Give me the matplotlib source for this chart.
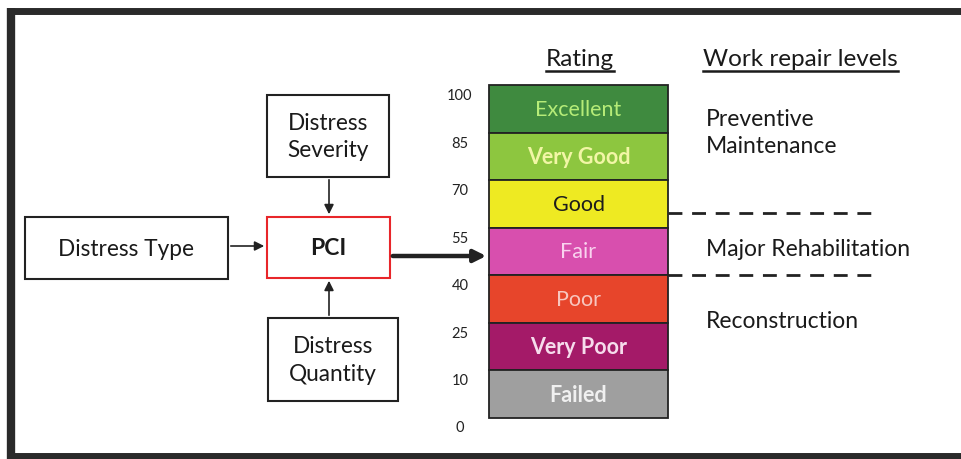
import matplotlib
matplotlib.use("Agg")
import matplotlib.pyplot as plt
from matplotlib.patches import Rectangle

plt.rcParams["font.family"] = ["Lato", "DejaVu Sans"]

# ── Data ────────────────────────────────────────────────────────────────────
ratings = ["Excellent", "Very Good", "Good", "Fair", "Poor", "Very Poor", "Failed"]
band_colors = ["#3f8a3f", "#8dc63f", "#eeea22", "#d84fae", "#e7452b", "#a41a68", "#9f9f9f"]
text_colors = ["#b6ec78", "#f2f6a6", "#1c1c1c", "#f9d3ef", "#f8c6bf", "#f6dcec", "#f0f0f0"]
pci_ticks = [100, 85, 70, 55, 40, 25, 10, 0]
repair_levels = [["Preventive", "Maintenance"], ["Major Rehabilitation"], ["Reconstruction"]]
inputs = ["Distress Severity", "Distress Type", "Distress Quantity"]

DARK = "#222222"

fig = plt.figure(figsize=(9.61, 4.6), dpi=100)
ax = fig.add_axes([0, 0, 1, 1])
ax.set_xlim(0, 961)
ax.set_ylim(460, 0)
ax.axis("off")

# outer frame (top, left, bottom only)
ax.plot([7, 961], [12, 12], color="#2a2a2a", lw=5, solid_capstyle="butt")
ax.plot([11, 11], [9, 460], color="#2a2a2a", lw=6, solid_capstyle="butt")
ax.plot([7, 961], [457, 457], color="#2a2a2a", lw=5, solid_capstyle="butt")


def box(x0, y0, x1, y1, lines, edge=DARK, bold=False, size=16.3):
    ax.add_patch(Rectangle((x0, y0), x1 - x0, y1 - y0, fill=False,
                           edgecolor=edge, lw=1.5))
    ax.text((x0 + x1) / 2, (y0 + y1) / 2, "\n".join(lines), ha="center",
            va="center", fontsize=size, color="#1a1a1a",
            fontweight="bold" if bold else "normal", linespacing=1.4)


# input boxes
box(267, 96, 389, 178, inputs[0].split(" "))
box(25, 218, 228, 280, [inputs[1]])
box(268, 319, 398, 402, inputs[2].split(" "))
box(267, 218, 390, 279, ["PCI"], edge="#e8262a", bold=True, size=16.5)

arrow = dict(arrowstyle="-|>", color=DARK, lw=1.2, mutation_scale=14)
ax.annotate("", xy=(329, 218), xytext=(329, 178), arrowprops=arrow)
ax.annotate("", xy=(329, 279), xytext=(329, 319), arrowprops=arrow)
ax.annotate("", xy=(267, 247), xytext=(228, 247), arrowprops=arrow)
ax.annotate("", xy=(489, 257), xytext=(390, 257),
            arrowprops=dict(arrowstyle="-|>", color=DARK, lw=3.2,
                            mutation_scale=18))

# rating bands
bar_x0, bar_x1 = 489, 668
top, bottom = 86, 419
h = (bottom - top) / len(ratings)
for i, (name, fc, tc) in enumerate(zip(ratings, band_colors, text_colors)):
    y0 = top + i * h
    ax.add_patch(Rectangle((bar_x0, y0), bar_x1 - bar_x0, h, facecolor=fc,
                           edgecolor=DARK, lw=1.3))
    ax.text((bar_x0 + bar_x1) / 2, y0 + h / 2, name, ha="center", va="center",
            fontsize=15.5, color=tc,
            fontweight="bold" if name in ("Very Good", "Very Poor", "Failed") else "normal")

# PCI scale labels
for i, v in enumerate(pci_ticks):
    y = top + i * h + 10 if i < len(pci_ticks) - 1 else bottom + 9
    ax.text(460, y, str(v), ha="center", va="center", fontsize=10.5,
            color="#222222")

# headers
for x, label, ha in [(580, "Rating", "center"), (703, "Work repair levels", "left")]:
    ax.text(x, 59, label, ha=ha, va="center", fontsize=17.5, color="#1a1a1a")

fig.canvas.draw()
r = fig.canvas.get_renderer()
for t in ax.texts[-2:]:
    bb = t.get_window_extent(r).transformed(ax.transData.inverted())
    ax.plot([bb.x0, bb.x1], [72, 72], color="#1a1a1a", lw=1.8)

# work repair levels
ax.text(706, 133, "\n".join(repair_levels[0]), ha="left", va="center",
        fontsize=16.5, color="#1a1a1a", linespacing=1.4)
ax.text(706, 249, repair_levels[1][0], ha="left", va="center",
        fontsize=16.5, color="#1a1a1a")
ax.text(706, 322, repair_levels[2][0], ha="left", va="center",
        fontsize=16.5, color="#1a1a1a")

# dashed boundaries
for y in (top + 2.7 * h, top + 4 * h):
    ax.plot([668, 877], [y, y], color=DARK, lw=2, dashes=(5, 3.5))

fig.savefig("out.png", dpi=100)
